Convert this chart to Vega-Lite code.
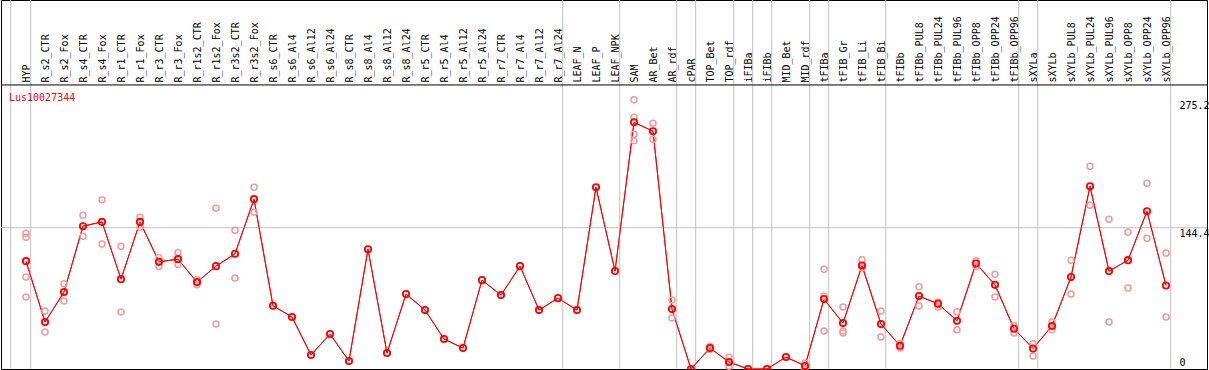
{
  "$schema": "https://vega.github.io/schema/vega-lite/v6.json",
  "width": 1206,
  "height": 369,
  "autosize": "none",
  "padding": {"left": 1, "top": 0, "right": 2, "bottom": 1},
  "background": "white",
  "title": {"text": "Lus10027344", "anchor": "start", "frame": "group", "orient": "top", "color": "#ff0000", "font": "DejaVu Sans Mono", "fontSize": 10, "fontWeight": "normal", "dx": 8, "dy": 107},
  "config": {
    "view": {"stroke": "#000000", "strokeWidth": 1},
    "axis": {"labelFont": "DejaVu Sans Mono", "labelFontSize": 10, "labelColor": "#000000", "ticks": false, "domain": false, "grid": false}
  },
  "datasets": {
    "means": [
      {"s": "HYP", "v": 110.2}, {"s": "R_s2_CTR", "v": 48.0}, {"s": "R_s2_Fox", "v": 78.6}, {"s": "R_s4_CTR", "v": 145.9},
      {"s": "R_s4_Fox", "v": 150.3}, {"s": "R_r1_CTR", "v": 91.8}, {"s": "R_r1_Fox", "v": 150.3}, {"s": "R_r3_CTR", "v": 109.5},
      {"s": "R_r3_Fox", "v": 112.2}, {"s": "R_r1s2_CTR", "v": 88.8}, {"s": "R_r1s2_Fox", "v": 105.1}, {"s": "R_r3s2_CTR", "v": 117.7},
      {"s": "R_r3s2_Fox", "v": 173.5}, {"s": "R_s6_CTR", "v": 64.6}, {"s": "R_s6_Al4", "v": 53.1}, {"s": "R_s6_Al12", "v": 14.3},
      {"s": "R_s6_Al24", "v": 35.7}, {"s": "R_s8_CTR", "v": 8.2}, {"s": "R_s8_Al4", "v": 122.4}, {"s": "R_s8_Al12", "v": 16.3},
      {"s": "R_s8_Al24", "v": 76.5}, {"s": "R_r5_CTR", "v": 60.2}, {"s": "R_r5_Al4", "v": 30.6}, {"s": "R_r5_Al12", "v": 21.4},
      {"s": "R_r5_Al24", "v": 90.8}, {"s": "R_r7_CTR", "v": 75.5}, {"s": "R_r7_Al4", "v": 105.1}, {"s": "R_r7_Al12", "v": 60.2},
      {"s": "R_r7_Al24", "v": 72.4}, {"s": "LEAF_N", "v": 60.2}, {"s": "LEAF_P", "v": 185.7}, {"s": "LEAF_NPK", "v": 100.0},
      {"s": "SAM", "v": 252.0}, {"s": "AR_Bet", "v": 242.9}, {"s": "AR_rdf", "v": 61.2}, {"s": "cPAR", "v": 0},
      {"s": "TOP_Bet", "v": 21.4}, {"s": "TOP_rdf", "v": 7.1}, {"s": "iFIBa", "v": 0}, {"s": "iFIBb", "v": 0},
      {"s": "MID_Bet", "v": 12.2}, {"s": "MID_rdf", "v": 3.1}, {"s": "tFIBa", "v": 71.4}, {"s": "tFIB_Gr", "v": 46.9},
      {"s": "tFIB_Li", "v": 105.7}, {"s": "tFIB_Bi", "v": 45.9}, {"s": "tFIBb", "v": 23.8}, {"s": "tFIBb_PUL8", "v": 74.5},
      {"s": "tFIBb_PUL24", "v": 66.6}, {"s": "tFIBb_PUL96", "v": 49.3}, {"s": "tFIBb_OPP8", "v": 107.8}, {"s": "tFIBb_OPP24", "v": 86.0},
      {"s": "tFIBb_OPP96", "v": 41.1}, {"s": "sXYLa", "v": 21.0}, {"s": "sXYLb", "v": 43.9}, {"s": "sXYLb_PUL8", "v": 93.9},
      {"s": "sXYLb_PUL24", "v": 186.7}, {"s": "sXYLb_PUL96", "v": 100.0}, {"s": "sXYLb_OPP8", "v": 111.2}, {"s": "sXYLb_OPP24", "v": 161.2},
      {"s": "sXYLb_OPP96", "v": 85.3}
    ],
    "reps": [
      {"s": "HYP", "v": 138.8}, {"s": "HYP", "v": 134.7}, {"s": "HYP", "v": 93.9}, {"s": "HYP", "v": 73.5},
      {"s": "R_s2_CTR", "v": 59.2}, {"s": "R_s2_CTR", "v": 37.8},
      {"s": "R_s2_Fox", "v": 87.0}, {"s": "R_s2_Fox", "v": 69.4},
      {"s": "R_s4_CTR", "v": 157.1}, {"s": "R_s4_CTR", "v": 135.7},
      {"s": "R_s4_Fox", "v": 172.8}, {"s": "R_s4_Fox", "v": 127.6},
      {"s": "R_r1_CTR", "v": 125.5}, {"s": "R_r1_CTR", "v": 58.2},
      {"s": "R_r1_Fox", "v": 155.1}, {"s": "R_r1_Fox", "v": 144.9},
      {"s": "R_r3_CTR", "v": 113.9}, {"s": "R_r3_CTR", "v": 104.7},
      {"s": "R_r3_Fox", "v": 119.0}, {"s": "R_r3_Fox", "v": 106.7},
      {"s": "R_r1s2_CTR", "v": 91.1}, {"s": "R_r1s2_CTR", "v": 86.0},
      {"s": "R_r1s2_Fox", "v": 164.3}, {"s": "R_r1s2_Fox", "v": 45.9},
      {"s": "R_r3s2_CTR", "v": 141.8}, {"s": "R_r3s2_CTR", "v": 92.9},
      {"s": "R_r3s2_Fox", "v": 185.7}, {"s": "R_r3s2_Fox", "v": 160.2},
      {"s": "SAM", "v": 275.2}, {"s": "SAM", "v": 257.1}, {"s": "SAM", "v": 239.8}, {"s": "SAM", "v": 233.3},
      {"s": "AR_Bet", "v": 251.0}, {"s": "AR_Bet", "v": 234.7},
      {"s": "AR_rdf", "v": 70.4}, {"s": "AR_rdf", "v": 52.0},
      {"s": "TOP_Bet", "v": 23.0}, {"s": "TOP_Bet", "v": 19.8},
      {"s": "TOP_rdf", "v": 11.9}, {"s": "TOP_rdf", "v": 2.7},
      {"s": "MID_rdf", "v": 6.1}, {"s": "MID_rdf", "v": 0},
      {"s": "tFIBa", "v": 102.0}, {"s": "tFIBa", "v": 74.5}, {"s": "tFIBa", "v": 38.8},
      {"s": "tFIB_Gr", "v": 63.3}, {"s": "tFIB_Gr", "v": 38.8}, {"s": "tFIB_Gr", "v": 36.7},
      {"s": "tFIB_Li", "v": 111.5}, {"s": "tFIB_Li", "v": 103.7},
      {"s": "tFIB_Bi", "v": 59.2}, {"s": "tFIB_Bi", "v": 32.7},
      {"s": "tFIBb", "v": 26.0}, {"s": "tFIBb", "v": 21.5},
      {"s": "tFIBb_PUL8", "v": 84.0}, {"s": "tFIBb_PUL8", "v": 64.3},
      {"s": "tFIBb_PUL24", "v": 68.5}, {"s": "tFIBb_PUL24", "v": 63.3},
      {"s": "tFIBb_PUL96", "v": 58.5}, {"s": "tFIBb_PUL96", "v": 40.1},
      {"s": "tFIBb_OPP8", "v": 110.5}, {"s": "tFIBb_OPP8", "v": 104.7},
      {"s": "tFIBb_OPP24", "v": 96.9}, {"s": "tFIBb_OPP24", "v": 73.5},
      {"s": "tFIBb_OPP96", "v": 44.5}, {"s": "tFIBb_OPP96", "v": 36.7},
      {"s": "sXYLa", "v": 25.8}, {"s": "sXYLa", "v": 13.3},
      {"s": "sXYLb", "v": 48.0}, {"s": "sXYLb", "v": 40.1},
      {"s": "sXYLb_PUL8", "v": 111.2}, {"s": "sXYLb_PUL8", "v": 76.5},
      {"s": "sXYLb_PUL24", "v": 207.1}, {"s": "sXYLb_PUL24", "v": 167.3},
      {"s": "sXYLb_PUL96", "v": 153.1}, {"s": "sXYLb_PUL96", "v": 48.0},
      {"s": "sXYLb_OPP8", "v": 139.8}, {"s": "sXYLb_OPP8", "v": 82.7},
      {"s": "sXYLb_OPP24", "v": 189.8}, {"s": "sXYLb_OPP24", "v": 133.7},
      {"s": "sXYLb_OPP96", "v": 118.4}, {"s": "sXYLb_OPP96", "v": 53.1}
    ],
    "bounds": [
      {"s": "HYP"}, {"s": "R_r7_Al24"}, {"s": "LEAF_NPK"}, {"s": "AR_rdf"}, {"s": "cPAR"}, {"s": "TOP_rdf"},
      {"s": "iFIBa"}, {"s": "iFIBb"}, {"s": "MID_rdf"}, {"s": "tFIBa"}, {"s": "tFIB_Bi"}, {"s": "tFIBb_OPP96"},
      {"s": "sXYLa"}, {"s": "sXYLb_OPP96"}
    ],
    "start": [{"s": "HYP"}]
  },
  "layer": [
    {
      "data": {"name": "means"},
      "mark": {"type": "line", "color": "#ff0000", "strokeWidth": 1},
      "encoding": {
        "x": {"field": "s", "type": "nominal", "sort": null, "title": null, "scale": {"type": "point", "range": [25, 1165], "padding": 0},
              "axis": {"orient": "top", "offset": -85, "labelAngle": 270, "labelAlign": "left", "labelBaseline": "middle", "labelPadding": 3, "labelOverlap": false, "labelBound": false}},
        "y": {"field": "v", "type": "quantitative", "title": null, "scale": {"domain": [0, 377], "nice": false, "zero": true},
              "axis": {"orient": "right", "offset": -29, "values": [0, 144.4, 275.2], "format": ".1~f", "labelAlign": "left", "labelBaseline": "middle", "labelPadding": 1, "labelFlush": false,
                       "labelOffset": {"condition": {"test": "datum.value === 0", "value": -7}, "value": 6}}}
      }
    },
    {
      "data": {"name": "bounds"},
      "mark": {"type": "rule", "color": "#c0c0c0", "strokeWidth": 1, "xOffset": 4.7},
      "encoding": {"x": {"field": "s", "type": "nominal", "sort": null, "title": null}}
    },
    {
      "data": {"name": "start"},
      "mark": {"type": "rule", "color": "#c0c0c0", "strokeWidth": 1, "xOffset": -15.3},
      "encoding": {"x": {"field": "s", "type": "nominal", "sort": null, "title": null}}
    },
    {
      "data": {"values": [{"g": 144.4}]},
      "mark": {"type": "rule", "color": "#c0c0c0", "strokeWidth": 1},
      "encoding": {"y": {"field": "g", "type": "quantitative", "title": null}}
    },
    {
      "data": {"values": [{"g": 290.2}]},
      "mark": {"type": "rule", "color": "#000000", "strokeWidth": 1},
      "encoding": {"y": {"field": "g", "type": "quantitative", "title": null}}
    },
    {
      "data": {"name": "means"},
      "mark": {"type": "line", "color": "#ff0000", "strokeWidth": 1},
      "encoding": {
        "x": {"field": "s", "type": "nominal", "sort": null, "title": null},
        "y": {"field": "v", "type": "quantitative", "title": null}
      }
    },
    {
      "data": {"name": "reps"},
      "mark": {"type": "point", "shape": "circle", "filled": false, "color": "#f09a9a", "strokeWidth": 1.5, "size": 36, "opacity": 1},
      "encoding": {
        "x": {"field": "s", "type": "nominal", "sort": null, "title": null},
        "y": {"field": "v", "type": "quantitative", "title": null}
      }
    },
    {
      "data": {"name": "means"},
      "mark": {"type": "point", "shape": "circle", "filled": false, "color": "#ff0000", "strokeWidth": 1.8, "size": 40, "opacity": 1},
      "encoding": {
        "x": {"field": "s", "type": "nominal", "sort": null, "title": null},
        "y": {"field": "v", "type": "quantitative", "title": null}
      }
    }
  ]
}
